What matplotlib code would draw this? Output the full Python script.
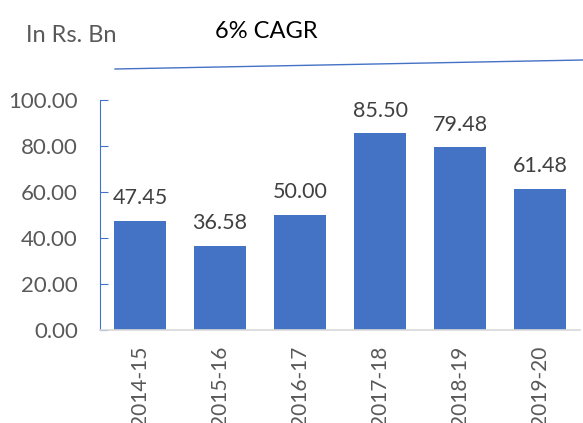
import numpy as np
from matplotlib import pyplot as plt
from matplotlib.lines import Line2D

years = ["2014-15", "2015-16", "2016-17", "2017-18", "2018-19", "2019-20"]
values = [47.45, 36.58, 50.00, 85.50, 79.48, 61.48]
yticks = [0, 20, 40, 60, 80, 100]

plt.rcParams["font.family"] = ["Lato", "DejaVu Sans"]

fig = plt.figure(figsize=(5.83, 4.23), dpi=100)
ax = fig.add_axes([100 / 583, 93 / 423, 480 / 583, 230 / 423])

x = np.arange(len(years))
ax.bar(x, values, width=0.66, color="#4472C4", zorder=2)
for xi, v in zip(x, values):
    ax.text(xi, v + 5.5, f"{v:.2f}", ha="center", va="bottom",
            fontsize=15.5, color="#404040")

ax.set_xlim(-0.5, 5.5)
ax.set_ylim(0, 100)
ax.set_yticks(yticks)
ax.set_yticklabels([f"{t:.2f}" for t in yticks], fontsize=16, color="#595959")
ax.set_xticks(x)
ax.set_xticklabels(years, rotation=90, fontsize=15, color="#595959")

ax.tick_params(axis="y", direction="in", length=6, color="#4472C4", pad=16)
ax.tick_params(axis="x", length=0, pad=11)

for side in ["top", "right"]:
    ax.spines[side].set_visible(False)
ax.spines["left"].set_color("#4472C4")
ax.spines["bottom"].set_color("#D9D9D9")
ax.spines["bottom"].set_linewidth(1.2)

fig.text(26 / 583, 1 - 36 / 423, "In Rs. Bn", fontsize=17, color="#595959",
         va="center", ha="left")
fig.text(266 / 583, 1 - 31 / 423, "6% CAGR", fontsize=17, color="black",
         va="center", ha="center")
fig.add_artist(Line2D([115 / 583, 1.0], [1 - 69 / 423, 1 - 60 / 423],
                      color="#4472C4", linewidth=1))

fig.savefig("out.png", dpi=100)
